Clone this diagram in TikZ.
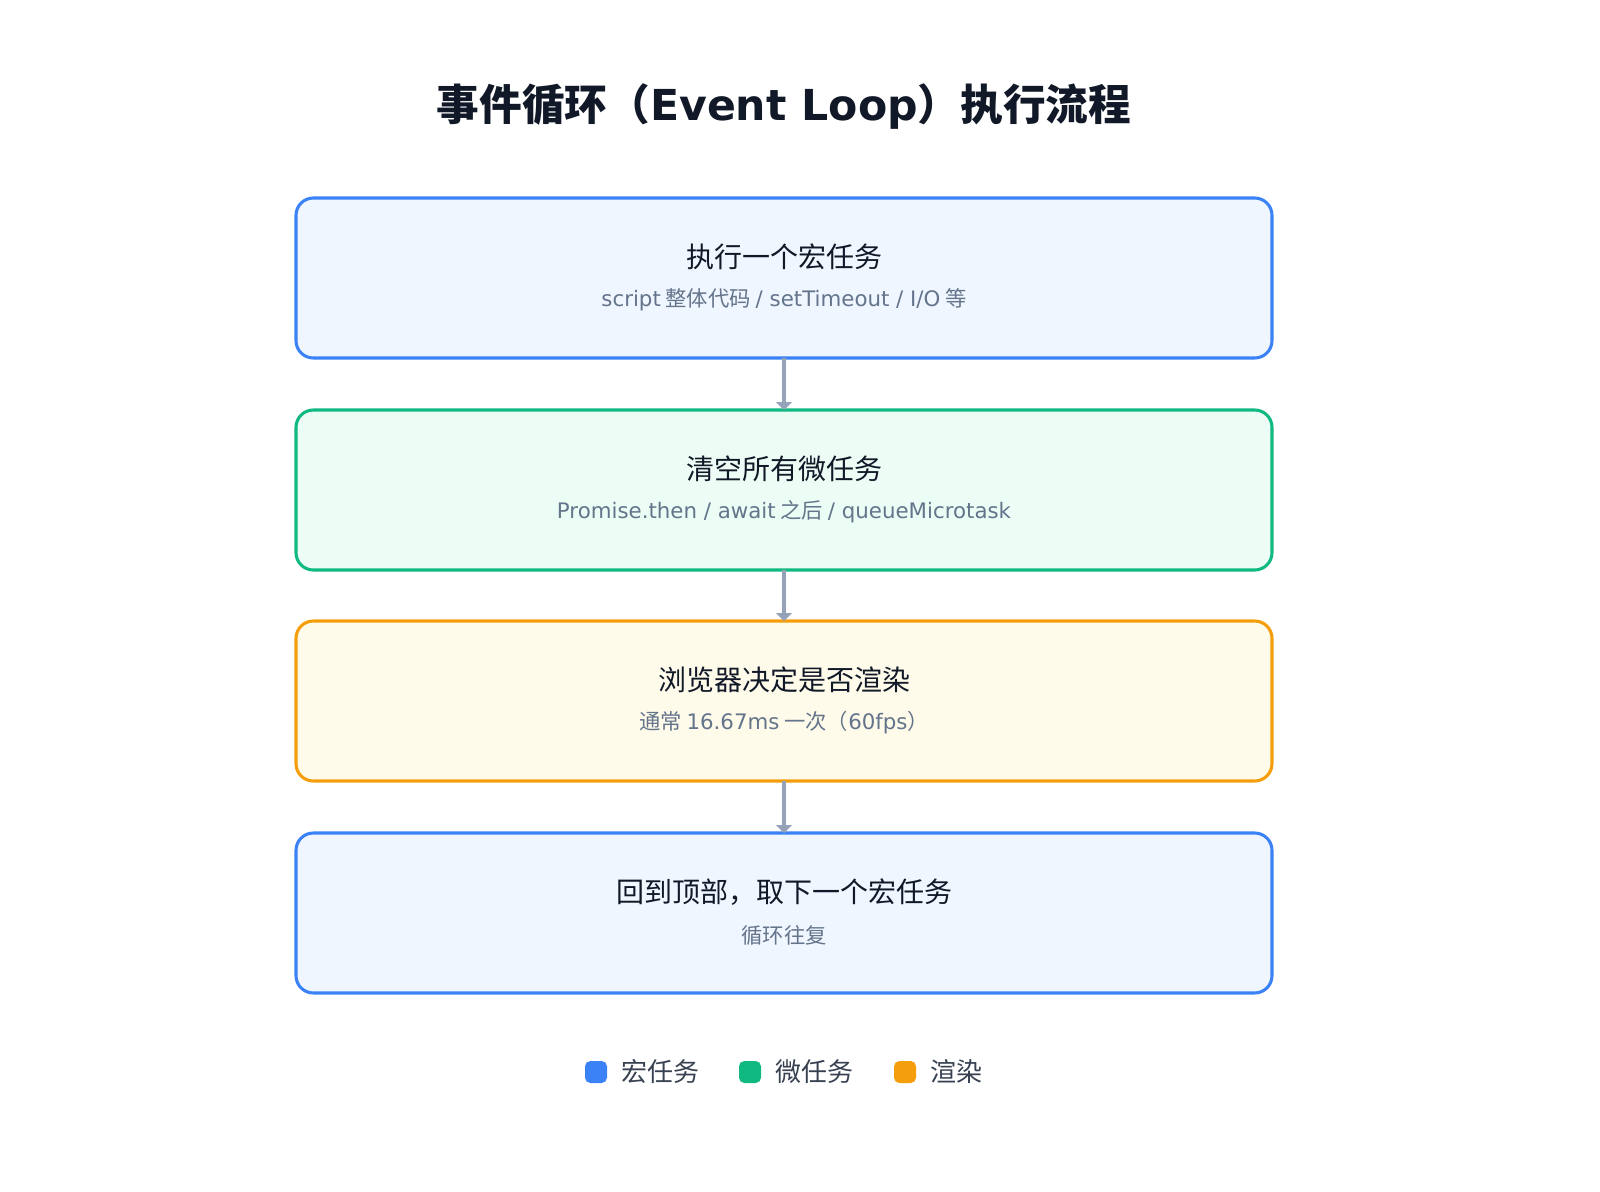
\documentclass[tikz,border=0pt]{standalone}
\usepackage{fontspec}
\setmainfont{Noto Sans CJK SC}
\newfontfamily\djv{DejaVu Sans}
\usetikzlibrary{arrows.meta}
\definecolor{tit}{HTML}{111827}
\definecolor{sub}{HTML}{64748B}
\definecolor{arr}{HTML}{94A3B8}
\definecolor{bB}{HTML}{3B82F6}\definecolor{fB}{HTML}{EFF6FF}
\definecolor{bG}{HTML}{10B981}\definecolor{fG}{HTML}{ECFDF5}
\definecolor{bO}{HTML}{F59E0B}\definecolor{fO}{HTML}{FEFBEA}
\definecolor{leg}{HTML}{374151}
\begin{document}
\begin{tikzpicture}[x=0.75pt,y=-0.75pt,
 box/.style={draw=#1,line width=2.3pt,rounded corners=13pt},
 main/.style={font=\fontsize{21}{24}\selectfont,text=tit},
 subt/.style={font=\fontsize{16}{20}\selectfont,text=sub},
 con/.style={draw=arr,line width=2.3pt,-{Triangle[length=6pt,width=12pt]}},
 lg/.style={font=\fontsize{19.5}{22}\selectfont,text=leg,anchor=west}]
\useasboundingbox (0,0) rectangle (1600,1192);
\node[font=\bfseries\fontsize{32}{36}\selectfont,text=tit] (title) at (784,107) {事件循环（{\djv\bfseries Event Loop}）执行流程};
\path[box=bB,fill=fB] (296,198) rectangle (1272,358);
\path[box=bG,fill=fG] (296,410) rectangle (1272,570);
\path[box=bO,fill=fO] (296,621) rectangle (1272,781);
\path[box=bB,fill=fB] (296,833) rectangle (1272,993);
\coordinate (b1) at (784,358);\coordinate (t2) at (784,410);
\coordinate (b2) at (784,570);\coordinate (t3) at (784,621);
\coordinate (b3) at (784,781);\coordinate (t4) at (784,833);
\node[main] (m1) at (784,257) {执行一个宏任务};
\node[subt] (s1) at (784,300) {{\djv script} 整体代码 {\djv / setTimeout / I/O} 等};
\node[main] (m2) at (784,469) {清空所有微任务};
\node[subt] (s2) at (784,512) {{\djv Promise.then / await} 之后 {\djv / queueMicrotask}};
\node[main] (m3) at (784,680) {浏览器决定是否渲染};
\node[subt] (s3) at (784,723) {通常 {\djv 16.67ms} 一次（{\djv 60fps}）};
\node[main] (m4) at (784,892) {回到顶部，取下一个宏任务};
\node[subt] (s4) at (784,935) {循环往复};
\draw[con] (b1) -- (t2);
\draw[con] (b2) -- (t3);
\draw[con] (b3) -- (t4);
\fill[bB,rounded corners=4pt] (585,1061) rectangle (607,1083);
\fill[bG,rounded corners=4pt] (739,1061) rectangle (761,1083);
\fill[bO,rounded corners=4pt] (894,1061) rectangle (916,1083);
\node[lg] (l1) at (617,1072) {宏任务};
\node[lg] (l2) at (771,1072) {微任务};
\node[lg] (l3) at (926,1072) {渲染};
\end{tikzpicture}
\end{document}
